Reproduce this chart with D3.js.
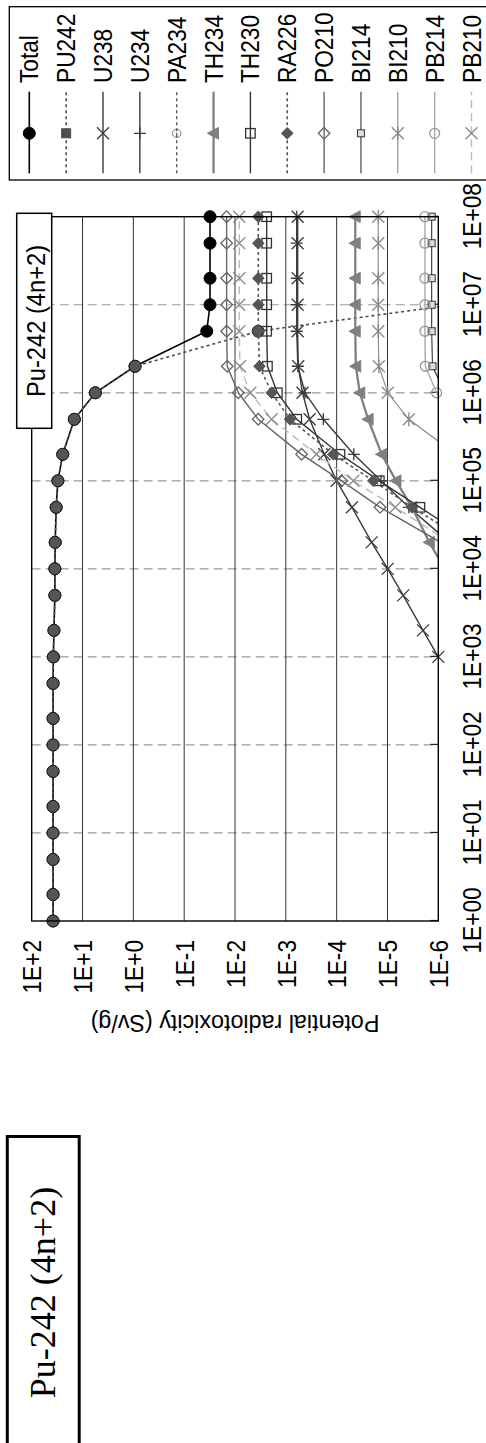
<!DOCTYPE html>
<html><head><meta charset="utf-8">
<script src="https://cdn.jsdelivr.net/npm/d3@7"></script>
<style>body{margin:0;background:#fff}svg{display:block}</style>
</head><body>
<svg id="c" width="486" height="1443"></svg>
<script>
const N = null;
const times = [1,2,5,10,20,50,100,200,500,1e3,2e3,5e3,1e4,2e4,5e4,1e5,2e5,5e5,1e6,2e6,5e6,1e7,2e7,5e7,1e8];
const xTickValues = [1,10,100,1e3,1e4,1e5,1e6,1e7,1e8];
const xTickLabels = ["1E+00","1E+01","1E+02","1E+03","1E+04","1E+05","1E+06","1E+07","1E+08"];
const yTickValues = [1e2,1e1,1,1e-1,1e-2,1e-3,1e-4,1e-5,1e-6];
const yTickLabels = ["1E+2","1E+1","1E+0","1E-1","1E-2","1E-3","1E-4","1E-5","1E-6"];
const seriesNames = ["Total","PU242","U238","U234","PA234","TH234","TH230","RA226","PO210","BI214","BI210","PB214","PB210"];

const total = [38,38,38,38,38,38,38,38,38,37.5,36.5,35,35,34.5,33,30.5,24.5,14.5,5.6,0.93,0.036,0.031,0.031,0.031,0.031];
const pu242 = [38,38,38,38,38,38,38,38,38,37.5,36.5,35,35,34.5,33,30.5,24.5,14.5,5.6,0.92,0.0035,5e-7,N,N,N];
const u238  = [N,N,N,N,N,N,N,N,N,1.0e-6,2.0e-6,4.9e-6,9.9e-6,2.05e-5,5.0e-5,1.0e-4,1.75e-4,3.4e-4,4.7e-4,5.7e-4,5.85e-4,5.85e-4,5.85e-4,5.85e-4,5.85e-4];
const u234  = [N,N,N,N,N,N,N,N,N,N,N,N,N,6e-7,3.8e-6,1.34e-5,4.6e-5,1.83e-4,4.2e-4,5.8e-4,6.1e-4,6.1e-4,6.1e-4,6.1e-4,6.1e-4];
const pa234 = [N,N,N,N,N,N,N,N,N,N,N,N,N,N,N,1.8e-9,3.2e-9,6e-9,8.5e-9,1.0e-8,1.05e-8,1.05e-8,1.05e-8,1.05e-8,1.05e-8];
const th234 = [N,N,N,N,N,N,N,N,N,N,N,N,7.5e-7,1.5e-6,3.3e-6,6.8e-6,1.3e-5,2.4e-5,3.5e-5,4.2e-5,4.3e-5,4.3e-5,4.3e-5,4.3e-5,4.3e-5];
const th230 = [N,N,N,N,N,N,N,N,N,N,N,N,N,2e-7,2.3e-6,1.45e-5,8.6e-5,6.1e-4,1.47e-3,2.3e-3,2.38e-3,2.38e-3,2.38e-3,2.38e-3,2.38e-3];
const ra226 = [N,N,N,N,N,N,N,N,N,N,N,N,N,2.5e-7,3.3e-6,1.9e-5,1.16e-4,8.3e-4,1.9e-3,3.3e-3,3.48e-3,3.48e-3,3.48e-3,3.48e-3,3.48e-3];
const po210 = [N,N,N,N,N,N,N,N,N,N,N,N,N,9e-7,1.4e-5,8e-5,4.9e-4,3.5e-3,8.6e-3,1.42e-2,1.46e-2,1.46e-2,1.46e-2,1.46e-2,1.46e-2];
const bi214 = [N,N,N,N,N,N,N,N,N,N,N,N,N,N,N,N,N,3.2e-7,7.4e-7,1.3e-6,1.35e-6,1.35e-6,1.35e-6,1.35e-6,1.35e-6];
const bi210 = [N,N,N,N,N,N,N,N,N,N,N,N,N,N,N,N,4.5e-7,3.8e-6,9.9e-6,1.48e-5,1.52e-5,1.52e-5,1.52e-5,1.52e-5,1.52e-5];
const pb214 = [N,N,N,N,N,N,N,N,N,N,N,N,N,N,N,N,N,4.5e-7,1.08e-6,1.8e-6,1.83e-6,1.83e-6,1.83e-6,1.83e-6,1.83e-6];
const pb210 = [N,N,N,N,N,N,N,N,N,N,N,N,N,6e-7,7e-6,4.7e-5,2.5e-4,1.9e-3,5.0e-3,8.0e-3,8.24e-3,8.24e-3,8.24e-3,8.24e-3,8.24e-3];
const seriesValues = [total,pu242,u238,u234,pa234,th234,th230,ra226,po210,bi214,bi210,pb214,pb210];

// styles (kept separate from data)
const styles = {
  Total: {stroke:"#000", w:1.6, dash:null, m:{t:"circle", r:6, fill:"#000", stroke:"#000"}},
  PU242: {stroke:"#4d4d4d", w:1.6, dash:"3,3", m:{t:"square", s:9, fill:"#4d4d4d", stroke:"#4d4d4d"}, pm:{t:"circle", r:6, fill:"#555", stroke:"#1a1a1a", sw:0.9}},
  U238: {stroke:"#3a3a3a", w:1.4, dash:null, m:{t:"x", h:6, stroke:"#3a3a3a", sw:1.3}},
  U234: {stroke:"#3a3a3a", w:1.4, dash:null, m:{t:"plus", h:6, stroke:"#3a3a3a", sw:1.3}},
  PA234: {stroke:"#555", w:1.4, dash:"3,3", m:{t:"dotcircle", r:4.2, stroke:"#777", sw:1}},
  TH234: {stroke:"#808080", w:2.3, dash:null, m:{t:"tri", s:6.2, fill:"#808080", stroke:"#808080"}},
  TH230: {stroke:"#333", w:1.4, dash:null, m:{t:"square", s:9.5, fill:"none", stroke:"#333", sw:1.3}},
  RA226: {stroke:"#555", w:1.6, dash:"3,3", m:{t:"diamond", h:5.8, fill:"#555", stroke:"#555"}},
  PO210: {stroke:"#666", w:1.4, dash:null, m:{t:"diamond", h:5.8, fill:"none", stroke:"#666", sw:1.3}},
  BI214: {stroke:"#333", w:1.1, dash:null, m:{t:"square", s:7, fill:"#ddd", stroke:"#333", sw:1}},
  BI210: {stroke:"#888", w:1.1, dash:null, m:{t:"ast", h:6, stroke:"#888", sw:1.3}},
  PB214: {stroke:"#aaa", w:1.4, dash:null, m:{t:"circle", r:5, fill:"none", stroke:"#999", sw:1.3}},
  PB210: {stroke:"#bbb", w:1.4, dash:"8,5", m:{t:"x", h:6, stroke:"#8a8a8a", sw:1.3}}
};

const W = 1443;
const svg = d3.select("#c");
const g = svg.append("g").attr("transform", `translate(0,${W}) rotate(-90)`);
const FONT = "'Liberation Sans', Arial, Helvetica, sans-serif";
const FS = 25.5, SX = 0.89;

const P = {l:522, r:1226.3, t:31.7, b:438.3};
const x = d3.scaleLog().domain([1,1e8]).range([P.l,P.r]);
const y = d3.scaleLog().domain([1e-6,1e2]).range([P.b,P.t]);

function marker(sel, m, cx, cy){
  const gg = sel.append("g").attr("transform",`translate(${cx},${cy})`);
  const sw = m.sw || 1;
  if (m.t==="circle") gg.append("circle").attr("r",m.r).attr("fill",m.fill).attr("stroke",m.stroke).attr("stroke-width",sw);
  else if (m.t==="square") gg.append("rect").attr("x",-m.s/2).attr("y",-m.s/2).attr("width",m.s).attr("height",m.s).attr("fill",m.fill).attr("stroke",m.stroke).attr("stroke-width",sw);
  else if (m.t==="x") gg.append("path").attr("d",`M${-m.h},${-m.h}L${m.h},${m.h}M${-m.h},${m.h}L${m.h},${-m.h}`).attr("stroke",m.stroke).attr("stroke-width",sw).attr("fill","none");
  else if (m.t==="plus") gg.append("path").attr("d",`M${-m.h},0L${m.h},0M0,${-m.h}L0,${m.h}`).attr("stroke",m.stroke).attr("stroke-width",sw).attr("fill","none");
  else if (m.t==="ast") gg.append("path").attr("d",`M${-m.h},${-m.h}L${m.h},${m.h}M${-m.h},${m.h}L${m.h},${-m.h}M${-m.h*1.15},0L${m.h*1.15},0`).attr("stroke",m.stroke).attr("stroke-width",sw).attr("fill","none");
  else if (m.t==="dotcircle"){ gg.append("circle").attr("r",m.r).attr("fill","none").attr("stroke",m.stroke).attr("stroke-width",sw); gg.append("circle").attr("r",0.9).attr("fill",m.stroke); }
  else if (m.t==="tri") gg.append("path").attr("d",`M0,${-m.s}L${m.s*0.95},${m.s*0.8}L${-m.s*0.95},${m.s*0.8}Z`).attr("fill",m.fill).attr("stroke",m.stroke);
  else if (m.t==="diamond") gg.append("path").attr("d",`M0,${-m.h}L${m.h},0L0,${m.h}L${-m.h},0Z`).attr("fill",m.fill).attr("stroke",m.stroke).attr("stroke-width",sw);
}

// plot background
g.append("rect").attr("x",P.l).attr("y",P.t).attr("width",P.r-P.l).attr("height",P.b-P.t).attr("fill","#fff");

// dashed vertical gridlines (time decades)
g.append("g").selectAll("line").data(xTickValues.slice(1,-1)).join("line")
  .attr("x1",d=>x(d)).attr("x2",d=>x(d)).attr("y1",P.t).attr("y2",P.b)
  .attr("stroke","#9a9a9a").attr("stroke-width",1.2).attr("stroke-dasharray","9,5");
// solid horizontal gridlines
g.append("g").selectAll("line").data(yTickValues.slice(1,-1)).join("line")
  .attr("x1",P.l).attr("x2",P.r).attr("y1",d=>y(d)).attr("y2",d=>y(d))
  .attr("stroke","#333").attr("stroke-width",1);

// axes
const xAxis = d3.axisBottom(x).tickValues(xTickValues).tickFormat((d,i)=>xTickLabels[i]).tickSizeInner(-8).tickSizeOuter(0).tickPadding(24.5);
const xa = g.append("g").attr("transform",`translate(0,${P.b})`).call(xAxis);
const yAxis = d3.axisLeft(y).tickValues(yTickValues).tickFormat((d,i)=>yTickLabels[i]).tickSizeInner(0).tickSizeOuter(0).tickPadding(19/SX);
const ya = g.append("g").attr("transform",`translate(${P.l},0)`).call(yAxis);
[xa,ya].forEach(a=>{ a.select(".domain").remove(); a.selectAll(".tick line").attr("stroke","#222").attr("stroke-width",1.2);
  a.selectAll("text").attr("font-family",FONT).attr("font-size",FS).attr("fill","#000").attr("transform",`scale(${SX},1)`); });
ya.selectAll("text").attr("dy","0.36em");

// series
g.append("clipPath").attr("id","pc").append("rect").attr("x",P.l).attr("y",P.t).attr("width",P.r-P.l).attr("height",P.b-P.t);
const lineGen = d3.line().defined(d=>d.v!=null).x(d=>x(d.t)).y(d=>y(d.v));
const plotG = g.append("g");
seriesNames.forEach((name,i)=>{
  const st = styles[name];
  const pts = times.map((t,j)=>({t, v: seriesValues[i][j]}));
  plotG.append("path").attr("clip-path","url(#pc)").attr("d",lineGen(pts)).attr("fill","none")
    .attr("stroke",st.stroke).attr("stroke-width",st.w).attr("stroke-dasharray",st.dash);
  const mg = plotG.append("g");
  pts.filter(d=>d.v!=null && d.v>=0.98e-6 && d.v<=1e2).forEach(d=>marker(mg, st.pm||st.m, x(d.t), y(d.v)));
});

// frame
g.append("rect").attr("x",P.l).attr("y",P.t).attr("width",P.r-P.l).attr("height",P.b-P.t).attr("fill","none").attr("stroke","#000").attr("stroke-width",1.4);

// axis title
g.append("text").attr("transform",`translate(428,235) rotate(-90)`).attr("text-anchor","middle")
  .attr("font-family",FONT).attr("font-size",23.3).text("Potential radiotoxicity (Sv/g)");

// in-plot label box
g.append("rect").attr("x",1014.7).attr("y",16.7).attr("width",215).attr("height",35).attr("fill","#fff").attr("stroke","#000").attr("stroke-width",1.5);
g.append("text").attr("transform","translate(1122,45) scale(0.93,1)").attr("text-anchor","middle").attr("font-family",FONT).attr("font-size",FS).text("Pu-242 (4n+2)");

// legend
g.append("rect").attr("x",1263).attr("y",9.3).attr("width",173.3).attr("height",500).attr("fill","#fff").attr("stroke","#000").attr("stroke-width",1.3);
const lg = g.append("g");
seriesNames.forEach((name,i)=>{
  const st = styles[name];
  const ly = 29.3 + 36.85*i;
  lg.append("line").attr("x1",1269.7).attr("x2",1351.3).attr("y1",ly).attr("y2",ly)
    .attr("stroke",st.stroke).attr("stroke-width",st.w).attr("stroke-dasharray",st.dash);
  marker(lg, st.m, 1309.7, ly);
  lg.append("text").attr("transform",`translate(1360,${ly+9}) scale(${SX},1)`).attr("font-family",FONT).attr("font-size",FS).text(name);
});

// separate caption box (serif)
g.append("rect").attr("x",-10).attr("y",7.3).attr("width",316.5).attr("height",71.9).attr("fill","none").attr("stroke","#000").attr("stroke-width",3);
g.append("text").attr("x",150.5).attr("y",55).attr("text-anchor","middle").attr("font-family","'Liberation Serif','DejaVu Serif',serif").attr("font-size",36).text("Pu-242 (4n+2)");
</script>
</body></html>
